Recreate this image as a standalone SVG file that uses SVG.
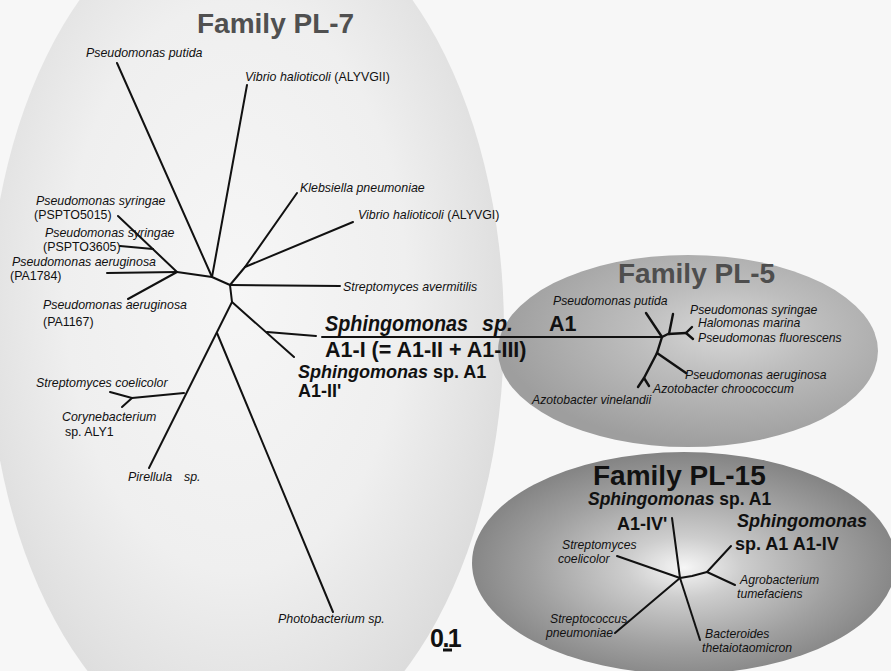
<svg xmlns="http://www.w3.org/2000/svg" width="891" height="671" viewBox="0 0 891 671">
<defs>
<radialGradient id="g7" cx="0.48" cy="0.45" r="0.55">
<stop offset="0" stop-color="#f6f6f6"/>
<stop offset="0.6" stop-color="#efefef"/>
<stop offset="0.88" stop-color="#e2e2e2"/>
<stop offset="1" stop-color="#dcdcdc"/>
</radialGradient>
<radialGradient id="g5" cx="0.6" cy="0.4" r="0.6">
<stop offset="0" stop-color="#d8d8d8"/>
<stop offset="0.4" stop-color="#bdbdbd"/>
<stop offset="1" stop-color="#9e9e9e"/>
</radialGradient>
<radialGradient id="g15" cx="0.5" cy="0.52" r="0.55">
<stop offset="0" stop-color="#f6f6f6"/>
<stop offset="0.25" stop-color="#cdcdcd"/>
<stop offset="0.65" stop-color="#a0a0a0"/>
<stop offset="1" stop-color="#7e7e7e"/>
</radialGradient>
<style>
text{font-family:"Liberation Sans",Arial,sans-serif;fill:#111}
.i{font-style:italic;font-size:12.4px}
.r{font-size:12.4px}
.s{font-style:italic;font-size:12.2px}
.b{font-weight:bold}
.bi{font-weight:bold;font-style:italic}
.fam{font-weight:bold;font-size:28px}
.e{stroke:#111;stroke-width:2;fill:none;stroke-linecap:round;stroke-linejoin:round}
.e5{stroke:#111;stroke-width:2.4;fill:none;stroke-linecap:round;stroke-linejoin:round}
</style>
</defs>
<rect width="891" height="671" fill="#f7f7f7"/>
<ellipse id="bg-pl7" cx="246" cy="330" rx="258" ry="432" fill="url(#g7)"/>
<ellipse id="bg-pl5" cx="688" cy="351" rx="190" ry="96" fill="url(#g5)"/>
<ellipse id="bg-pl15" cx="684" cy="563" rx="212" ry="111" fill="url(#g15)"/>

<g id="connectors">
<polyline class="e" points="117,63 212,277"/>
<polyline class="e" points="247,85 212,277"/>
<polyline class="e" points="177,272 212,277 230,285 232,302"/>
<polyline class="e" points="297,193 245,267 230,285"/>
<polyline class="e" points="353,222 245,267"/>
<polyline class="e" points="230,285 340,286"/>
<polyline class="e" points="232,302 294,357"/>
<polyline class="e" points="267,332 316,336"/>
<polyline class="e" points="322,337 662,337"/>
<polyline class="e" points="232,302 149,468"/>
<polyline class="e" points="217,333 333,612"/>
<polyline class="e" points="184,393 132,398 110,392"/>
<polyline class="e" points="132,398 122,407"/>
<polyline class="e" points="177,272 107,273"/>
<polyline class="e" points="177,272 128,299"/>
<polyline class="e" points="177,272 118,216"/>
<polyline class="e" points="153,249 120,246"/>
<!-- PL-5 -->
<polyline class="e5" points="646,313 662,337 657,353"/>
<polyline class="e5" points="662,337 668,334 686,333"/>
<polyline class="e5" points="673,314 669,334"/>
<polyline class="e5" points="692,327 686,333 693,339"/>
<polyline class="e5" points="657,353 686,373"/>
<polyline class="e5" points="657,353 644,378"/>
<polyline class="e5" points="638,387 644,378 649,386"/>
<!-- PL-15 -->
<polyline class="e" points="672,518 680,578"/>
<polyline class="e" points="617,556 680,578"/>
<polyline class="e" points="680,578 692,576 707,572 731,546"/>
<polyline class="e" points="707,572 735,585"/>
<polyline class="e" points="680,578 615,633"/>
<polyline class="e" points="680,578 700,640"/>
<!-- scale bar -->
<line x1="443" y1="650" x2="452" y2="650" stroke="#111" stroke-width="3"/>
</g>

<g id="title-pl7"><text class="fam" x="197" y="33" font-size="27" style="fill:#505050">Family PL-7</text></g>
<g id="title-pl5"><text class="fam" x="618" y="283" style="fill:#4e4e4e">Family PL-5</text></g>
<g id="title-pl15"><text class="fam" x="593" y="485" style="fill:#111">Family PL-15</text></g>

<g id="n-pputida7"><text class="i" x="86" y="57">Pseudomonas putida</text></g>
<g id="n-vibrio2"><text class="i" x="245" y="81">Vibrio halioticoli <tspan font-style="normal">(ALYVGII)</tspan></text></g>
<g id="n-klebsiella"><text class="i" x="300" y="192">Klebsiella pneumoniae</text></g>
<g id="n-vibrio1"><text class="i" x="358" y="219">Vibrio halioticoli <tspan font-style="normal">(ALYVGI)</tspan></text></g>
<g id="n-psyr5015"><text class="i" x="36" y="205">Pseudomonas syringae</text><text class="r" x="34" y="219">(PSPTO5015)</text></g>
<g id="n-psyr3605"><text class="i" x="45" y="237">Pseudomonas syringae</text><text class="r" x="43" y="251">(PSPTO3605)</text></g>
<g id="n-pa1784"><text class="i" x="12" y="266">Pseudomonas aeruginosa</text><text class="r" x="10" y="280">(PA1784)</text></g>
<g id="n-pa1167"><text class="i" x="43" y="309">Pseudomonas aeruginosa</text><text class="r" x="43" y="326">(PA1167)</text></g>
<g id="n-saverm"><text class="i" x="343" y="291">Streptomyces avermitilis</text></g>
<g id="n-a1"><text class="bi" x="325" y="331" font-size="21.5" textLength="143" lengthAdjust="spacingAndGlyphs">Sphingomonas</text><text class="bi" x="482" y="331" font-size="21.5">sp.</text><text class="b" x="549" y="331" font-size="21.5">A1</text><text class="b" x="325" y="357" font-size="21.5">A1-I (= A1-II + A1-III)</text></g>
<g id="n-a1ii"><text class="bi" x="298" y="378" font-size="18">Sphingomonas<tspan font-style="normal"> sp. A1</tspan></text><text class="b" x="298" y="397" font-size="18">A1-II'</text></g>
<g id="n-scoel7"><text class="i" x="36" y="387">Streptomyces coelicolor</text></g>
<g id="n-coryne"><text class="i" x="62" y="421">Corynebacterium</text><text class="r" x="65" y="436">sp. ALY1</text></g>
<g id="n-pirellula"><text class="i" x="128" y="481">Pirellula</text><text class="i" x="184" y="481">sp.</text></g>
<g id="n-photo"><text class="i" x="278" y="623">Photobacterium sp.</text></g>
<g id="scale"><text class="b" x="430" y="647" font-size="25" letter-spacing="-1.5">0.1</text></g>

<g id="n-pputida5"><text class="s" x="553" y="305">Pseudomonas putida</text></g>
<g id="n-psyr5"><text class="s" x="690" y="314">Pseudomonas syringae</text></g>
<g id="n-halo"><text class="s" x="698" y="327">Halomonas marina</text></g>
<g id="n-pfluo"><text class="s" x="698" y="342">Pseudomonas fluorescens</text></g>
<g id="n-paer5"><text class="s" x="685" y="379">Pseudomonas aeruginosa</text></g>
<g id="n-azchro"><text class="s" x="653" y="393">Azotobacter chroococcum</text></g>
<g id="n-azvin"><text class="s" x="532" y="404">Azotobacter vinelandii</text></g>

<g id="n-a1ivp"><text class="bi" x="588" y="505" font-size="17.5">Sphingomonas<tspan font-style="normal"> sp. A1</tspan></text><text class="b" x="617" y="530" font-size="18">A1-IV'</text></g>
<g id="n-a1iv"><text class="bi" x="737" y="527" font-size="18">Sphingomonas</text><text class="b" x="735" y="550" font-size="18">sp. A1 A1-IV</text></g>
<g id="n-scoel15"><text class="s" x="562" y="549">Streptomyces</text><text class="s" x="558" y="563">coelicolor</text></g>
<g id="n-agro"><text class="s" x="740" y="584">Agrobacterium</text><text class="s" x="737" y="598">tumefaciens</text></g>
<g id="n-strepto"><text class="s" x="550" y="623">Streptococcus</text><text class="s" x="546" y="637">pneumoniae</text></g>
<g id="n-bactero"><text class="s" x="705" y="638">Bacteroides</text><text class="s" x="702" y="652">thetaiotaomicron</text></g>
</svg>
